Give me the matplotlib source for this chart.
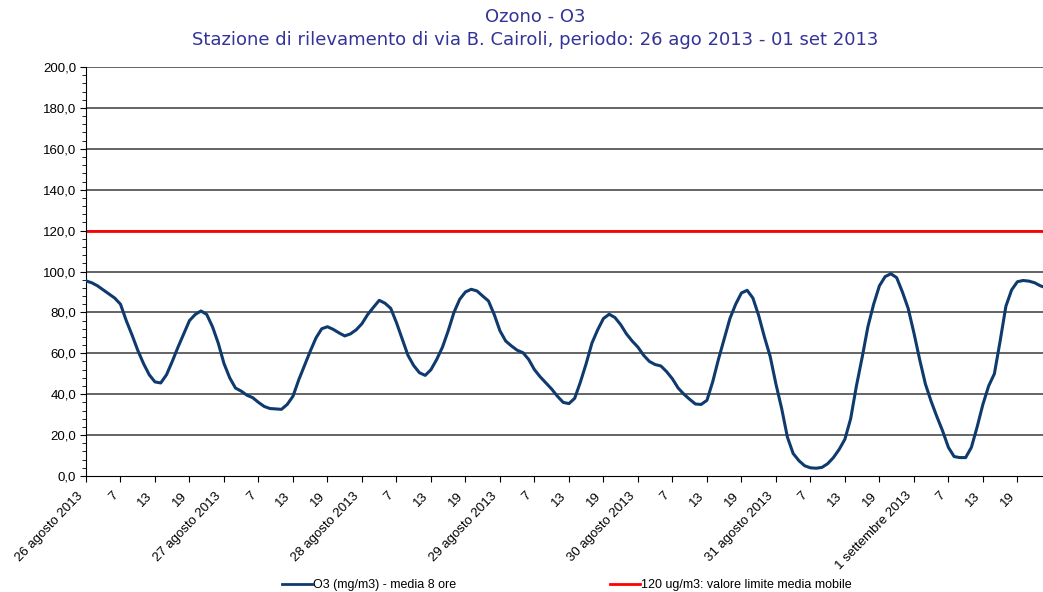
import numpy as np
import matplotlib
matplotlib.use("Agg")
import matplotlib.pyplot as plt
import matplotlib.transforms as mtrans
from matplotlib.lines import Line2D
from matplotlib.ticker import FuncFormatter, MultipleLocator

# hourly values, 26 ago 2013 h1 -> 1 set 2013 h24
o3 = [95.4, 94.5, 93.0, 91.0, 89.0, 87.0, 84.0, 76.0, 69.0, 61.5,
      55.0, 49.5, 46.0, 45.5, 49.5, 56.0, 63.0, 69.5, 76.0, 79.0,
      80.7, 79.0, 73.0, 65.0, 55.0, 48.0, 43.0, 41.5, 39.5, 38.3,
      36.0, 34.0, 33.0, 32.8, 32.6, 35.0, 39.0, 47.0, 54.0, 61.0,
      67.5, 72.0, 73.0, 71.7, 70.0, 68.5, 69.5, 71.5, 74.5, 79.0,
      82.5, 85.9, 84.5, 82.0, 75.0, 67.0, 59.0, 54.0, 50.5, 49.2,
      52.0, 57.0, 63.0, 71.0, 80.0, 86.4, 90.0, 91.3, 90.5, 88.0,
      85.6, 79.0, 71.0, 66.0, 63.6, 61.5, 60.3, 57.0, 52.0, 48.5,
      45.5, 42.5, 39.0, 36.0, 35.4, 38.0, 46.0, 55.0, 65.0, 71.5,
      77.0, 79.1, 77.5, 74.0, 69.5, 66.0, 63.0, 59.0, 56.0, 54.5,
      53.8, 51.0, 47.5, 43.0, 40.0, 37.5, 35.2, 35.0, 37.0, 46.0,
      57.0, 67.0, 77.0, 84.0, 89.5, 90.8, 87.0, 78.5, 68.0, 58.5,
      45.0, 33.0, 19.0, 11.0, 7.5, 5.0, 4.0, 3.8, 4.2, 6.0,
      9.0, 13.0, 18.0, 28.0, 44.0, 58.0, 73.0, 84.0, 93.0, 97.5,
      98.9, 97.0, 90.0, 82.0, 70.0, 57.0, 45.0, 36.5, 29.0, 22.0,
      14.0, 9.5, 9.0, 9.0, 14.0, 24.0, 35.0, 44.0, 50.0, 66.0,
      83.0, 91.0, 95.0, 95.6, 95.3, 94.5, 93.0, 92.0]
limite = 120
giorni = ["26 agosto 2013", "27 agosto 2013", "28 agosto 2013", "29 agosto 2013",
          "30 agosto 2013", "31 agosto 2013", "1 settembre 2013"]
ore = ["7", "13", "19"]

ore_idx = np.arange(len(o3))
tick_pos = np.arange(0, len(o3), 6)
tick_lab = []
for g in giorni:
    tick_lab += [g] + ore

plt.rcParams["font.family"] = ["Liberation Sans", "DejaVu Sans"]

fig = plt.figure(figsize=(10.43, 5.92), dpi=100)
ax = fig.add_axes([86 / 1043, 1 - 476 / 592, 1 - 86 / 1043 + 0.003, 409 / 592])

for v in range(20, 201, 20):
    ax.axhline(v, color="#3a3a3a", lw=1.1, zorder=1)
ax.axhline(limite, color="#ff0000", lw=2, zorder=2)
ax.plot(ore_idx, o3, color="#0f3a6e", lw=2.2, zorder=3)

ax.set_xlim(0, len(o3) - 1)
ax.set_ylim(0, 200)
ax.yaxis.set_major_locator(MultipleLocator(20))
ax.yaxis.set_minor_locator(MultipleLocator(4))
ax.yaxis.set_major_formatter(FuncFormatter(lambda v, p: f"{v:.1f}".replace(".", ",")))
ax.set_xticks(tick_pos)
ax.set_xticklabels(tick_lab, rotation=46, ha="right", va="top", rotation_mode="anchor", fontsize=9.5)
ax.tick_params(axis="y", which="major", length=4, labelsize=9.5, pad=3)
ax.tick_params(axis="y", which="minor", length=3)
ax.tick_params(axis="x", length=4, pad=6)
# shift the slanted labels a bit to the left, like the original
shift = mtrans.ScaledTranslation(-9 / 100, 0, fig.dpi_scale_trans)
for lab in ax.get_xticklabels():
    lab.set_transform(lab.get_transform() + shift)
for s in ["top", "right"]:
    ax.spines[s].set_visible(False)

fig.text(0.513, 1 - 17 / 592, "Ozono - O3", ha="center", va="center",
         color="#333399", fontsize=13, family="DejaVu Sans")
fig.text(0.513, 1 - 40 / 592, "Stazione di rilevamento di via B. Cairoli, periodo: 26 ago 2013 - 01 set 2013",
         ha="center", va="center", color="#333399", fontsize=13, family="DejaVu Sans")

h1 = Line2D([], [], color="#0f3a6e", lw=2)
h2 = Line2D([], [], color="#ff0000", lw=2)
fig.legend([h1, h2], ["O3 (mg/m3) - media 8 ore", "120 ug/m3: valore limite media mobile"],
           loc="center left", bbox_to_anchor=(282 / 1043, 1 - 585 / 592), ncol=2,
           frameon=False, fontsize=9, handlelength=2.4, handletextpad=0.1,
           columnspacing=12.3, borderpad=0, borderaxespad=0)

fig.savefig("out.png", dpi=100)
